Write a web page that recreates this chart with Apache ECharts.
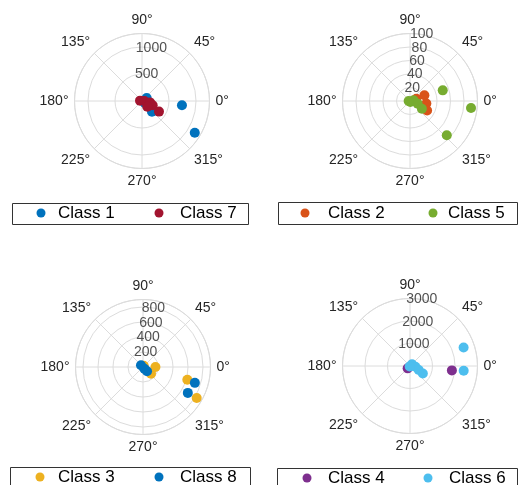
<!DOCTYPE html>
<html>
<head>
<meta charset="utf-8">
<script src="https://cdn.jsdelivr.net/npm/echarts@6/dist/echarts.min.js"></script>
<style>
  html, body { margin: 0; padding: 0; background: #fff; }
  #chart { width: 518px; height: 485px; }
</style>
</head>
<body>
<div id="chart"></div>
<script>
// Each point is [radius, angle in degrees]
const class1 = [[744, 354], [1140, 329], [103, 33], [271, 313], [70, 322]];
const class7 = [[37, 170], [43, 0], [150, 350], [213, 338], [144, 313], [371, 328]];
const class2 = [[23, 22], [24.5, 351], [29, 331], [10, 20]];
const class5 = [[51, 18], [91, 353.5], [74.5, 317], [1.5, 290], [5.4, 10], [12, 341], [21, 327], [2, 180]];
const class3 = [[615, 344], [827, 330], [166, 0], [140, 320], [20, 60]];
const class8 = [[723, 343], [690, 330], [35, 140], [29, 309], [79, 313]];
const class4 = [[1872, 354], [148, 225]];
const class6 = [[2519, 19], [2395, 355], [659, 330], [117, 40], [242, 353], [430, 335], [30, 240]];

// Radial tick labels and ring settings per panel
const rTicks1 = [500, 1000];
const rTicks2 = [20, 40, 60, 80, 100];
const rTicks3 = [200, 400, 600, 800];
const rTicks4 = [1000, 2000, 3000];
const rMax = [1250, 100, 900, 3000];
const rStep = [500, 20, 200, 1000];
const angleStep = 45;
const rLabelAngle = 80;

const colors = {
  'Class 1': '#0072BD', 'Class 7': '#A2142F',
  'Class 2': '#D95319', 'Class 5': '#77AC30',
  'Class 3': '#EDB120', 'Class 8': '#0072BD',
  'Class 4': '#7E2F8E', 'Class 6': '#4DBEEE'
};

const panels = [
  { center: [142, 101], ticks: rTicks1, series: [['Class 1', class1], ['Class 7', class7]] },
  { center: [410, 101], ticks: rTicks2, series: [['Class 2', class2], ['Class 5', class5]] },
  { center: [143, 367], ticks: rTicks3, series: [['Class 3', class3], ['Class 8', class8]] },
  { center: [410, 366], ticks: rTicks4, series: [['Class 4', class4], ['Class 6', class6]] }
];

const gridColor = '#dcdcdc';
const textColor = '#262626';
const font = 'Liberation Sans, Arial, sans-serif';

const polar = [], angleAxis = [], radiusAxis = [], series = [];
panels.forEach((p, i) => {
  polar.push({ center: p.center, radius: 67.5 });
  angleAxis.push({
    polarIndex: i, type: 'value', min: 0, max: 360, interval: angleStep,
    startAngle: 0, clockwise: false,
    axisLine: { show: true, lineStyle: { color: gridColor, width: 1 } },
    axisTick: { show: false },
    splitLine: { show: true, lineStyle: { color: gridColor, width: 1 } },
    axisLabel: {
      margin: 6, fontSize: 14, color: textColor, fontFamily: font,
      formatter: v => (v === 360 ? '' : v + '°')
    }
  });
  radiusAxis.push({
    polarIndex: i, type: 'value', min: 0, max: rMax[i], interval: rStep[i],
    axisLine: { show: false }, axisTick: { show: false }, axisLabel: { show: false },
    splitLine: { show: true, lineStyle: { color: gridColor, width: 1 } }
  });
  // radial tick labels placed along the 80° direction
  series.push({
    type: 'scatter', coordinateSystem: 'polar', polarIndex: i, silent: true,
    symbolSize: 1, itemStyle: { color: 'rgba(0,0,0,0)' },
    data: p.ticks.map(t => [t, rLabelAngle]),
    label: {
      show: true, position: 'inside', fontSize: 14, color: textColor, fontFamily: font,
      formatter: d => String(d.value[0])
    },
    z: 1
  });
  p.series.forEach(([name, data]) => {
    series.push({
      name, type: 'scatter', coordinateSystem: 'polar', polarIndex: i,
      symbol: 'circle', symbolSize: 10, data,
      itemStyle: { color: colors[name], opacity: 1 },
      z: 3
    });
  });
});

// Legend entries: [name, marker x, text x, center y]
const legendItems = [
  ['Class 1', 41, 58, 213], ['Class 7', 159, 180, 213],
  ['Class 2', 305, 328, 213], ['Class 5', 433, 448, 213],
  ['Class 3', 40, 58, 477], ['Class 8', 159, 180, 477],
  ['Class 4', 307, 328, 478], ['Class 6', 428, 449, 478]
];
const legend = legendItems.map(([name, mx, tx, cy]) => ({
  data: [name], left: mx - 4.5, top: cy - 10, padding: 0,
  icon: 'circle', itemWidth: 9, itemHeight: 9, selectedMode: false,
  textStyle: { fontSize: 17, color: '#000', fontFamily: font, lineHeight: 20,
    padding: [0, 0, 0, tx - mx - 9.5] }
}));

// Legend frames
const frames = [[12, 203, 236, 21], [278, 202, 239, 22], [10, 467, 240, 30], [277, 468, 240, 30]];
const graphic = frames.map(([x, y, w, h]) => ({
  type: 'rect', shape: { x: x + 0.5, y: y + 0.5, width: w, height: h },
  style: { fill: '#fff', stroke: '#333', lineWidth: 1 }, z: -1
}));

const chart = echarts.init(document.getElementById('chart'), null, { renderer: 'canvas' });
chart.setOption({
  animation: false,
  backgroundColor: '#fff',
  polar, angleAxis, radiusAxis, series, legend, graphic
});
</script>
</body>
</html>
